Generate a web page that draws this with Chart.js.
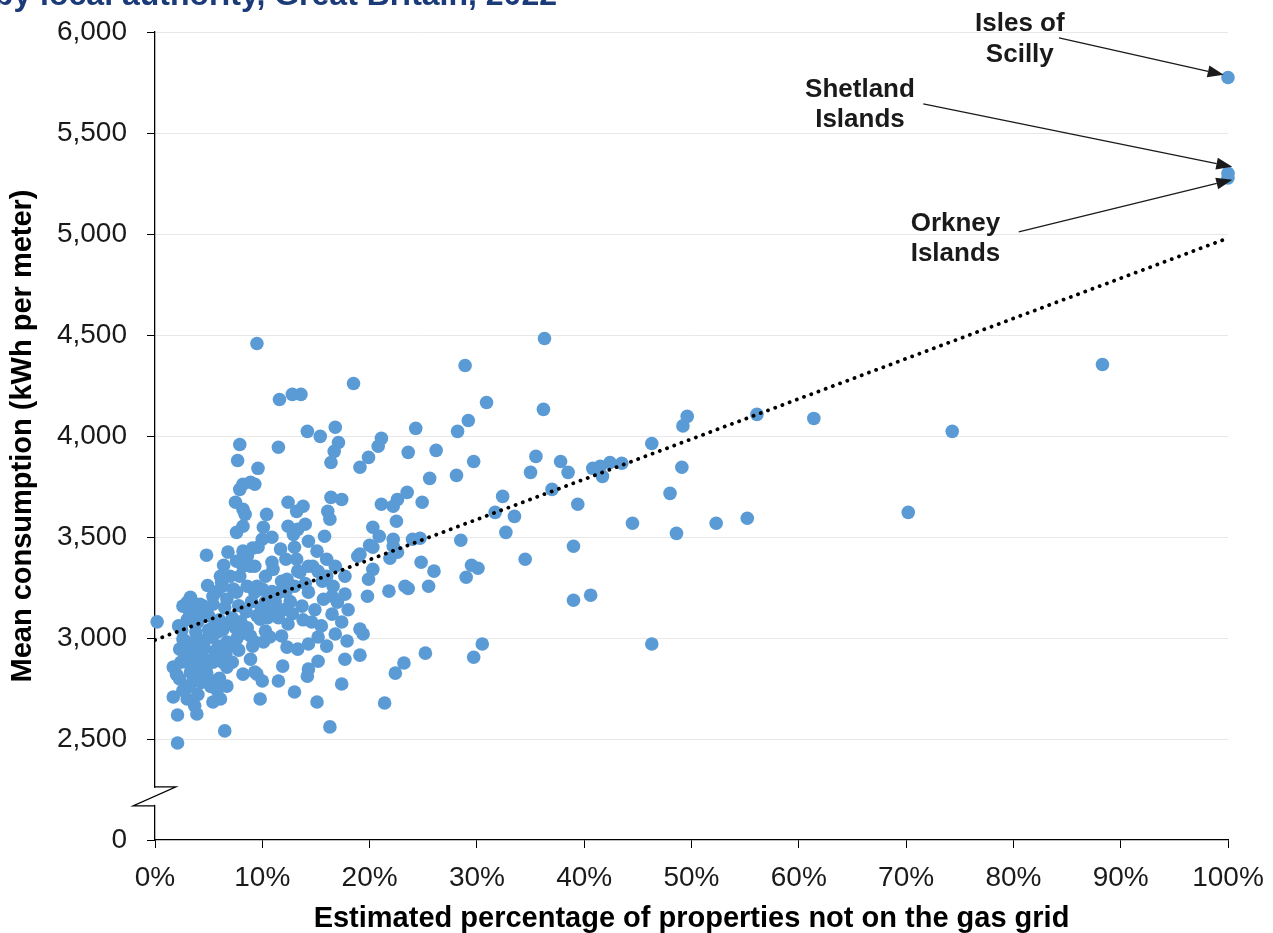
<!DOCTYPE html>
<html><head><meta charset="utf-8">
<script src="https://cdn.jsdelivr.net/npm/chart.js@4.4.1/dist/chart.umd.min.js"></script>
<style>html,body{margin:0;padding:0;background:#fff;overflow:hidden}#wrap{width:1273px;height:933px;position:relative}</style>
</head><body><div id="wrap"><canvas id="c" width="1273" height="933"></canvas></div>
<script>
// ---- DATA ----
const offGridPct = [
0.2,9.5,11.6,12.8,13.6,18.5,28.9,36.3,88.3,100,100,100,74.3,70.2,61.4,56.1,49.6,49.2,46.3,49.1,
48.0,48.6,52.3,55.2,46.3,44.5,39.0,40.6,39.0,39.4,37.0,38.5,37.8,35.5,35.0,36.2,30.9,29.2,28.2,24.3,
23.6,26.2,29.7,28.1,25.6,23.5,24.9,32.4,31.7,33.5,32.7,28.5,24.8,26.0,25.5,23.3,23.6,29.0,29.5,30.1,
34.5,30.5,29.7,25.2,23.2,40.8,41.5,42.4,43.5,41.7,24.0,24.7,21.1,20.8,19.9,19.1,22.6,21.1,22.2,22.5,
20.3,20.9,20.0,22.2,22.2,22.6,21.9,19.1,20.3,19.9,19.8,21.8,19.1,19.4,19.1,22.4,21.4,20.3,18.9,14.2,
15.4,16.8,17.1,16.7,16.4,11.5,9.6,9.3,12.4,13.8,13.2,10.4,16.4,17.4,16.1,16.3,10.1,12.4,13.3,14.0,
10.9,10.0,12.9,14.3,15.8,13.0,9.6,15.1,16.0,13.2,9.3,10.9,14.3,13.3,16.8,17.7,10.3,15.6,11.8,10.0,
9.3,13.0,14.3,16.5,17.7,13.7,15.7,16.5,17.4,9.8,10.3,12.4,11.8,12.3,14.6,15.2,16.0,13.3,14.3,9.3,
10.7,17.9,15.2,17.7,14.3,14.2,11.9,9.3,10.0,11.5,13.0,17.4,15.1,9.8,16.3,7.9,7.7,8.2,8.9,7.9,
7.5,8.2,8.4,8.2,7.6,4.8,6.8,8.6,8.9,6.2,7.0,7.3,8.6,3.3,3.0,4.2,5.4,6.7,7.6,2.6,
3.3,2.3,4.2,5.3,5.8,5.6,6.3,6.7,1.7,3.0,3.3,4.5,2.3,3.5,4.9,6.7,1.7,3.0,5.4,6.1,
8.9,8.2,9.5,3.7,3.9,2.1,6.5,2.1,2.6,3.5,4.5,5.4,6.3,6.1,7.9,8.2,9.5,11.0,3.0,3.9,
4.8,5.0,5.8,6.7,7.6,8.9,9.1,10.1,4.2,4.8,5.4,11.6,12.3,13.5,14.7,16.0,16.6,17.0,8.2,9.1,
2.2,3.2,4.0,5.0,6.0,3.8,7.2,7.8,8.5,9.0,9.9,10.8,11.2,12.0,11.0,12.6,10.5,6.5,3.6,4.6,
2.0,2.6,4.3,5.2,6.0,7.0,7.2,2.5,3.0,3.6,4.4,5.6,6.3,6.9,7.5,8.0,8.6,9.5,10.3,11.5,
12.8,13.8,14.9,15.5,16.8,18.0,2.8,3.9,4.9,5.9,6.6,7.8,8.0,2.4,3.2,4.0,5.8,7.6,6.4,5.8,
4.9,10.9,12.2,14.0,15.2,11.7,12.2
];
const meanKWh = [
3080,4458,4181,4206,4206,4260,4349,4483,4354,5775,5300,5278,4023,3622,4087,4107,4097,4050,3963,3845,
3716,3518,3568,3593,2970,3568,3187,3212,3454,3662,3736,3820,3874,3899,3820,4132,4166,4077,4023,4038,
3919,3929,3874,3805,3790,3721,3672,3701,3622,3602,3523,3484,3375,3331,3256,3256,3245,3301,3360,3345,
3390,2970,2905,2925,2876,3840,3850,3869,3865,3800,3489,3494,3988,3949,3894,3845,3686,3662,3652,3578,
3548,3504,3459,3489,3454,3425,3395,3415,3340,3291,3207,3232,3044,3020,2915,2826,2678,3449,3405,4023,
3998,4043,3968,3924,3869,3944,3840,3761,3672,3652,3627,3612,3696,3686,3627,3588,3548,3553,3538,3563,
3499,3489,3513,3479,3504,3449,3449,3430,3390,3390,3355,3375,3355,3331,3355,3306,3306,3281,3281,3242,
3227,3256,3227,3207,3217,3158,3192,3118,3079,3093,3034,3069,3010,2955,3079,3005,2960,2945,2970,2980,
3005,2985,2885,2895,2846,2811,2861,2831,2787,2787,2733,2772,2683,2698,2560,3958,3879,3761,3771,3736,
3672,3637,3612,3553,3523,3410,3425,3405,3355,3276,3306,3242,3256,3202,3177,3167,3167,3192,3227,2995,
2960,2945,2920,3005,3029,2935,2880,2856,2856,2880,2831,2836,2797,2782,2807,2762,2708,2698,2683,2698,
2895,2821,2821,2664,2624,2619,2540,2480,3158,3177,3158,3207,3256,3306,3306,3355,3256,3340,2980,2980,
2995,3040,2895,2980,2995,3010,2960,2980,2861,2831,2880,3227,3291,3326,3355,3306,3256,3177,3430,3445,
3060,3110,3080,3110,3090,3030,3100,3160,3130,3180,3150,3120,3180,3140,3150,3180,3100,3150,2900,2950,
2820,2740,2780,2760,2800,2960,2880,3040,3090,3140,3120,3070,3040,3070,3050,3080,3050,3110,3180,3100,
3120,3090,3140,3060,3020,3140,2920,2840,2890,2960,2920,2940,3020,2880,2760,2720,2740,3380,3360,3230,
3260,3230,3230,3270,3330,3440,3390
];
const trendX = [0, 100];
const trendY = [2990, 4980];
const xTickValues = [0,10,20,30,40,50,60,70,80,90,100];
const xTickLabels = ['0%','10%','20%','30%','40%','50%','60%','70%','80%','90%','100%'];
const yTickValues = [2000,2500,3000,3500,4000,4500,5000,5500,6000];
const yTickLabels = ['0','2,500','3,000','3,500','4,000','4,500','5,000','5,500','6,000'];
const labelNames = [['Isles of','Scilly'], ['Shetland','Islands'], ['Orkney','Islands']];
const labelCentreX = [80.6, 65.7, 74.6];
const labelLineY = [[6038, 5886], [5716, 5565], [5050, 4901]];
const arrowFrom = [[84.25, 5971], [71.6, 5644], [80.5, 5011]];
const arrowTo = [[99.6, 5788], [100.4, 5333], [100.4, 5269]];
const breakRange = [2169, 2263];
const titleText = 'by local authority, Great Britain, 2022';

const FAM = '"Liberation Sans", Arial, Helvetica, sans-serif';

const overlay = {
  id: 'overlay',
  afterDraw(chart) {
    const ctx = chart.ctx, xs = chart.scales.x, ys = chart.scales.y;
    ctx.save();
    ctx.font = 'bold 32px ' + FAM;
    ctx.fillStyle = '#1b3a78';
    ctx.textAlign = 'right';
    ctx.textBaseline = 'alphabetic';
    ctx.fillText(titleText, 557, 5);
    const ax = xs.left;
    const yTop = ys.getPixelForValue(breakRange[1]);
    const yBot = ys.getPixelForValue(breakRange[0]);
    ctx.fillStyle = '#fff';
    ctx.fillRect(ax - 3, yTop + 1, 6, yBot - yTop - 2);
    ctx.strokeStyle = '#000';
    ctx.lineWidth = 1.2;
    ctx.beginPath();
    ctx.moveTo(ax, yTop); ctx.lineTo(ax + 21, yTop);
    ctx.lineTo(ax - 22, yBot); ctx.lineTo(ax, yBot);
    ctx.stroke();
    ctx.font = 'bold 26px ' + FAM;
    ctx.textAlign = 'center';
    ctx.textBaseline = 'middle';
    for (let i = 0; i < labelNames.length; i++) {
      ctx.fillStyle = '#1a1a1a';
      const cx = xs.getPixelForValue(labelCentreX[i]);
      labelNames[i].forEach((t, j) => ctx.fillText(t, cx, ys.getPixelForValue(labelLineY[i][j])));
      const x1 = xs.getPixelForValue(arrowFrom[i][0]), y1 = ys.getPixelForValue(arrowFrom[i][1]);
      const x2 = xs.getPixelForValue(arrowTo[i][0]), y2 = ys.getPixelForValue(arrowTo[i][1]);
      const ang = Math.atan2(y2 - y1, x2 - x1);
      const L = 16, W = 6;
      const bx = x2 - L * Math.cos(ang), by = y2 - L * Math.sin(ang);
      ctx.strokeStyle = '#1a1a1a'; ctx.lineWidth = 1.3;
      ctx.beginPath(); ctx.moveTo(x1, y1); ctx.lineTo(bx, by); ctx.stroke();
      ctx.beginPath();
      ctx.moveTo(x2, y2);
      ctx.lineTo(bx + W * Math.sin(ang), by - W * Math.cos(ang));
      ctx.lineTo(bx - W * Math.sin(ang), by + W * Math.cos(ang));
      ctx.closePath(); ctx.fill();
    }
    ctx.restore();
  }
};

new Chart(document.getElementById('c'), {
  type: 'scatter',
  data: {
    datasets: [
      {
        type: 'line',
        data: trendX.map((x, i) => ({x, y: trendY[i]})),
        borderColor: '#000', borderWidth: 3.8, borderDash: [0.1, 7.6], borderCapStyle: 'round',
        pointRadius: 0, fill: false, order: 0
      },
      {
        data: offGridPct.map((x, i) => ({x, y: meanKWh[i]})),
        backgroundColor: '#5b9bd5', borderColor: '#5b9bd5', borderWidth: 0,
        pointRadius: 6.8, order: 1, clip: false
      }
    ]
  },
  options: {
    responsive: false, animation: false, devicePixelRatio: 1,
    layout: { padding: { left: 0, right: 45, top: 32, bottom: 0 } },
    plugins: { legend: { display: false }, tooltip: { enabled: false } },
    scales: {
      x: {
        type: 'linear', min: 0, max: 100,
        afterBuildTicks: s => { s.ticks = xTickValues.map(v => ({value: v})); },
        afterFit: s => { s.height = 93; s.paddingLeft = 0; s.paddingRight = 0; },
        grid: { drawOnChartArea: false, drawTicks: true, tickLength: 8, tickColor: '#000' },
        border: { color: '#000', width: 1.3 },
        ticks: { callback: v => xTickLabels[xTickValues.indexOf(v)], autoSkip: false, maxRotation: 0,
                 font: { family: FAM, size: 28 }, color: '#1a1a1a', padding: 13 },
        title: { display: true, text: 'Estimated percentage of properties not on the gas grid',
                 font: { family: FAM, size: 29, weight: 'bold', lineHeight: 1.0 }, color: '#000', padding: { top: 0, bottom: 0 } }
      },
      y: {
        type: 'linear', min: 2000, max: 6000,
        afterBuildTicks: s => { s.ticks = yTickValues.map(v => ({value: v})); },
        afterFit: s => { s.width = 155; s.paddingTop = 0; s.paddingBottom = 0; },
        grid: { color: c => (c.tick && c.tick.value === 2000) ? 'rgba(0,0,0,0)' : '#e8e8e8',
                lineWidth: 1, drawTicks: true, tickLength: 8, tickColor: '#000' },
        border: { color: '#000', width: 1.3 },
        ticks: { callback: v => yTickLabels[yTickValues.indexOf(v)], font: { family: FAM, size: 28 },
                 color: '#1a1a1a', padding: 20 },
        title: { display: true, text: 'Mean consumption (kWh per meter)',
                 font: { family: FAM, size: 29, weight: 'bold' }, color: '#000', padding: { top: 6, bottom: 0 } }
      }
    }
  },
  plugins: [overlay]
});
</script></body></html>
